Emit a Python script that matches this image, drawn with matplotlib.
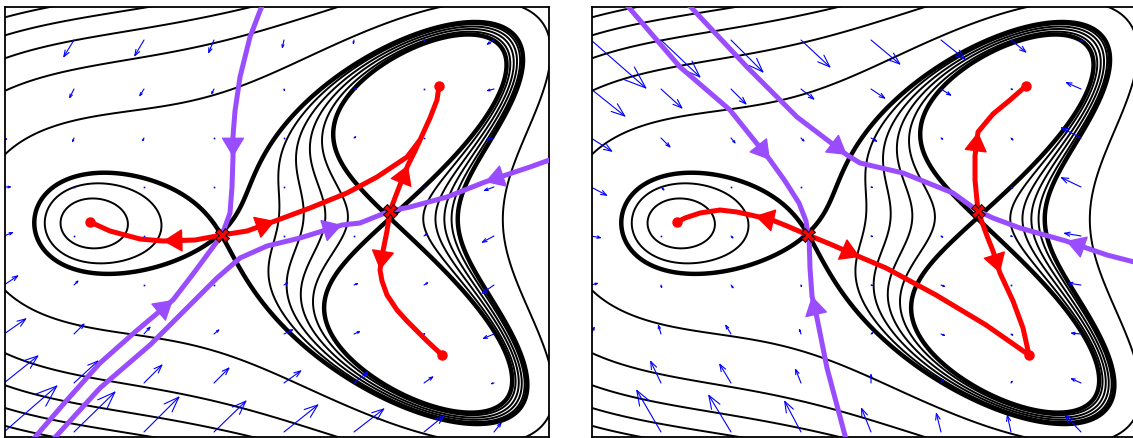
import numpy as np
import matplotlib.pyplot as plt
from matplotlib.patches import FancyArrowPatch

# landscape: u = px right of the parabola vertex, v = px above the mid-line
AXIS_CRIT_U = [-160, -28, 140]   # left sink, left saddle, right saddle on the axis
LOBE_SINK = [190, 135]           # upper right sink (the lower one mirrors it)
TILT = 0.068                     # small up/down asymmetry
OUTER_LEVELS = [1.3, 4.2, 7.1, 10.0, 12.9, 15.8]
N_INNER = 6                      # levels from right saddle up to left saddle

SADDLES = [(-28, -14), (140, 10)]
SINKS = [(-160, -1), (189, 135), (192, -134)]

# quiver grid and arrows (du, dv), rows top to bottom
GRID_U = [-246, -176, -106, -36, 34, 104, 174, 244]
GRID_V = [181, 132, 83, 34, -15, -64, -113, -162, -211]

LEFT_ARROWS = [
    [(-10, -16), (-11, -18), (-10, -17), (-6, -14), (-2, -9), (-1, -5), (0, -2), (-8, -5)],
    [(-2, -5), (-5, -10), (-5, -8), (-3, -6), (1, -3), (4, 0), (1, 0), (-8, -2)],
    [(4, -2), (-2, -5), (-2, -4), (-1, -1), (1, 0), (3, 2), (1, 0), (-9, -2)],
    [(8, 0), (0, 0), (0, 0), (0, 0), (0, 0), (0, 0), (0, 0), (-11, -4)],
    [(10, 4), (1, 0), (0, 0), (0, 0), (0, 0), (0, 0), (4, 3), (-13, -7)],
    [(15, 10), (5, 5), (1, 1), (1, 0), (5, 3), (5, 2), (5, 3), (-13, -9)],
    [(23, 16), (11, 11), (7, 8), (6, 5), (10, 5), (7, 3), (2, 1), (-12, -5)],
    [(35, 28), (25, 23), (19, 19), (16, 16), (18, 13), (15, 12), (10, 7), (-4, -1)],
    [(54, 47), (42, 41), (36, 36), (33, 32), (35, 28), (31, 24), (21, 17), (8, 10)],
]

RIGHT_ARROWS = [
    [(56, -49), (40, -38), (33, -33), (30, -28), (30, -25), (25, -20), (16, -13), (2, -2)],
    [(35, -28), (22, -20), (16, -16), (14, -11), (15, -10), (11, -7), (3, -1), (-16, 7)],
    [(22, -14), (10, -10), (5, -6), (4, -4), (7, -4), (3, -2), (3, -3), (-21, 11)],
    [(17, -9), (4, -4), (1, -1), (0, 0), (3, -1), (2, -1), (3, -2), (-21, 10)],
    [(11, -2), (1, -1), (3, -3), (0, 0), (3, -1), (3, -2), (2, -1), (-18, 3)],
    [(8, 2), (1, -4), (3, -4), (1, -3), (3, -1), (5, -2), (1, 0), (-14, 2)],
    [(4, 8), (-3, 10), (-6, 10), (-2, 6), (3, 2), (5, -2), (3, -2), (-11, 1)],
    [(-5, 10), (-11, 23), (-12, 20), (-6, 15), (0, 10), (3, 5), (2, 3), (-11, 5)],
    [(-30, 45), (-25, 43), (-23, 38), (-17, 32), (-10, 25), (-5, 20), (-4, 18), (-17, 18)],
]

# manifolds: (points, index of the arrow tip)
LEFT_RED = [
    ([(-28, -14), (-55, -19), (-87, -20), (-110, -18), (-140, -10), (-160, -1)], 2),
    ([(-28, -14), (-3, -10), (25, 0), (60, 13), (97, 28), (127, 44), (157, 64),
      (170, 81), (180, 103), (187, 121), (189, 135)], 2),
    ([(140, 10), (148, 31), (158, 56), (165, 70), (170, 81)], 2),
    ([(140, 10), (137, -10), (133, -30), (130, -49), (132, -60), (137, -74),
      (147, -89), (157, -100), (177, -120), (192, -134)], 3),
]
LEFT_PURPLE = [
    ([(13, 218), (0, 184), (-10, 144), (-15, 110), (-17, 85), (-17, 64), (-18, 34),
      (-20, 8), (-28, -14)], 5),
    ([(-220, -222), (-183, -179), (-150, -142), (-115, -111), (-77, -79), (-57, -53),
      (-37, -26), (-28, -14)], 4),
    ([(-200, -222), (-150, -167), (-100, -124), (-63, -87), (-33, -57), (-10, -37),
      (17, -25), (50, -17), (92, -4), (110, -2), (140, 10)], 8),
    ([(305, 63), (280, 54), (235, 39), (197, 24), (160, 14), (140, 10)], 2),
]
RIGHT_RED = [
    ([(-29, -14), (-50, -5), (-65, 1), (-82, 5), (-100, 9), (-117, 11), (-137, 8),
      (-152, 3), (-160, -1)], 3),
    ([(-29, -14), (-7, -23), (23, -36), (49, -47), (99, -74), (149, -104), (192, -134)], 2),
    ([(141, 10), (138, 41), (138, 65), (141, 89), (156, 107), (173, 121), (189, 135)], 3),
    ([(141, 10), (150, -15), (156, -30), (163, -52), (176, -80), (186, -107), (192, -134)], 3),
]
RIGHT_PURPLE = [
    ([(-212, 218), (-157, 154), (-107, 111), (-67, 61), (-52, 40), (-38, 18), (-31, 0),
      (-29, -14)], 3),
    ([(10, -222), (-10, -147), (-20, -97), (-25, -75), (-27, -47), (-28, -14)], 3),
    ([(-150, 218), (-90, 154), (-40, 104), (10, 66), (23, 58), (66, 48), (116, 28),
      (141, 10)], 3),
    ([(305, -43), (270, -34), (229, -20), (183, -7), (156, 3), (141, 10)], 2),
]

PURPLE = '#994dff'
XLIM = (-245, 299)
YLIM = (-216, 214)

# polynomial landscape built from the critical points
sx, sy = LOBE_SINK
dW = 4 * np.poly(np.array(AXIS_CRIT_U) / sx)
W = np.polyint(dW)
d2W = np.polyder(dW)
k = np.polyval(dW, 1.0) / 2


def energy(u, v):
    X, Y = u / sx, v / sy
    return np.polyval(W, X) + k * (Y**4 - 2 * X * Y**2) + TILT * Y


def crit_level(u, v):
    # Newton on the gradient, started from the marked saddle
    X, Y = u / sx, v / sy
    for _ in range(40):
        gx = np.polyval(dW, X) - 2 * k * Y**2
        gy = 4 * k * Y**3 - 4 * k * X * Y + TILT
        hxx = np.polyval(d2W, X)
        hxy = -4 * k * Y
        hyy = 12 * k * Y**2 - 4 * k * X
        det = hxx * hyy - hxy**2
        X -= (hyy * gx - hxy * gy) / det
        Y -= (-hxy * gx + hxx * gy) / det
    return energy(X * sx, Y * sy)


s1 = crit_level(*SADDLES[0])
s2 = crit_level(*SADDLES[1])
levels = sorted(list(np.linspace(s2, s1, N_INNER)) + OUTER_LEVELS)
widths = [3.2 if min(abs(l - s1), abs(l - s2)) < 1e-9 else 1.4 for l in levels]

uu, vv = np.meshgrid(np.linspace(-250, 310, 700), np.linspace(-222, 222, 560))
hh = energy(uu, vv)


def draw_curve(ax, pts, head, color):
    pts = np.array(pts, dtype=float)
    ax.plot(pts[:, 0], pts[:, 1], color=color, lw=3.6, solid_capstyle='butt',
            solid_joinstyle='round', zorder=4)
    ax.add_patch(FancyArrowPatch(tuple(pts[head - 1]), tuple(pts[head]),
                                 arrowstyle='-|>,head_length=1.25,head_width=0.75',
                                 mutation_scale=10, color=color, lw=1,
                                 shrinkA=0, shrinkB=0, zorder=5))


def draw_panel(ax, arrows, red, purple):
    ax.contour(uu, vv, hh, levels=levels, colors='k', linewidths=widths,
               linestyles='solid', zorder=1)
    for i, v in enumerate(GRID_V):
        for j, u in enumerate(GRID_U):
            du, dv = arrows[i][j]
            L = np.hypot(du, dv)
            if L < 2:
                ax.plot(u, v, 's', color='blue', ms=1.2, mew=0, zorder=2)
                continue
            style = f'->,head_length={0.3 * L * 0.72:.2f},head_width={0.11 * L * 0.72:.2f}'
            ax.add_patch(FancyArrowPatch((u, v), (u + du, v + dv), arrowstyle=style,
                                         mutation_scale=1, color='blue', lw=0.8,
                                         shrinkA=0, shrinkB=0, zorder=2))
    for pts, head in purple:
        draw_curve(ax, pts, head, PURPLE)
    for pts, head in red:
        draw_curve(ax, pts, head, 'red')
    # saddles sit where each panel's curves start
    for pts, _ in red[::2]:
        ax.plot(*pts[0], marker='X', ms=10, mfc='red', mec='k', mew=0.7, zorder=6)
    for u, v in SINKS:
        ax.plot(u, v, 'o', ms=6.5, color='red', zorder=6)
    ax.set_xlim(*XLIM)
    ax.set_ylim(*YLIM)
    ax.set_xticks([])
    ax.set_yticks([])
    for sp in ax.spines.values():
        sp.set_linewidth(1.3)


fig = plt.figure(figsize=(11.33, 4.38), dpi=100)
ax1 = fig.add_axes([5 / 1133, 1 / 438, 544 / 1133, 430 / 438])
ax2 = fig.add_axes([592 / 1133, 1 / 438, 544 / 1133, 430 / 438])
draw_panel(ax1, LEFT_ARROWS, LEFT_RED, LEFT_PURPLE)
draw_panel(ax2, RIGHT_ARROWS, RIGHT_RED, RIGHT_PURPLE)

fig.savefig('out.png', dpi=100)
plt.close(fig)
